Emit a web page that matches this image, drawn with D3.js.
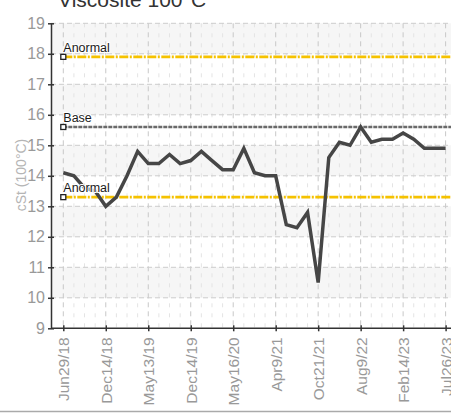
<!DOCTYPE html>
<html><head><meta charset="utf-8">
<script src="https://cdn.jsdelivr.net/npm/d3@7"></script>
<style>
body{margin:0;background:#fff;}
svg{display:block;}
</style></head>
<body>
<svg id="chart" width="451" height="413"></svg>
<script>
const title = "Viscosite 100°C";
const yTitle = "cSt (100°C)";
const values = [14.1,14.0,13.6,13.5,13.0,13.3,14.0,14.8,14.4,14.4,14.7,14.4,14.5,14.8,14.5,14.2,14.2,14.9,14.1,14.0,14.0,12.4,12.3,12.8,10.5,14.6,15.1,15.0,15.6,15.1,15.2,15.2,15.4,15.2,14.9,14.9,14.9];
const tickIndex = [0,4,8,12,16,20,24,28,32,36];
const tickLabels = ["Jun29/18","Dec14/18","May13/19","Dec14/19","May16/20","Apr9/21","Oct21/21","Aug9/22","Feb14/23","Jul26/23"];
const refNames = ["Anormal","Base","Anormal"];
const refValues = [17.9,15.6,13.3];
const refKinds = ["limit","base","limit"];
const yTicks = [9,10,11,12,13,14,15,16,17,18,19];

(function(){
const svg = d3.select("#chart");
const narrow = "'Liberation Sans Narrow','Arial Narrow',sans-serif";
const axisX = 51, plotRight = 451, plotTop = 23.3, plotBottom = 328.3;

const x = d3.scalePoint().domain(d3.range(values.length)).range([63.3, 445.6]);
const y = d3.scaleLinear().domain([9,19]).range([plotBottom, plotTop]);

// alternating bands
const bands = d3.range(9,19).filter(v => (v % 2) === 0);
svg.append("g").selectAll("rect").data(bands).join("rect")
  .attr("x", axisX).attr("width", plotRight - axisX)
  .attr("y", d => y(d+1)).attr("height", d => y(d) - y(d+1))
  .attr("fill", "#f6f6f6");

// minor vertical grid
svg.append("g").selectAll("line").data(d3.range(values.length).filter(i => !tickIndex.includes(i))).join("line")
  .attr("x1", d => x(d)).attr("x2", d => x(d)).attr("y1", plotTop).attr("y2", plotBottom)
  .attr("stroke", "#e4e4e4").attr("stroke-width", 1).attr("stroke-dasharray", "4,6");
// major vertical grid
svg.append("g").selectAll("line").data(tickIndex).join("line")
  .attr("x1", d => x(d)).attr("x2", d => x(d)).attr("y1", plotTop).attr("y2", plotBottom)
  .attr("stroke", "#c8c8c8").attr("stroke-width", 1).attr("stroke-dasharray", "5,4");
// horizontal grid
svg.append("g").selectAll("line").data(yTicks.slice(1)).join("line")
  .attr("x1", axisX).attr("x2", plotRight).attr("y1", d => y(d)).attr("y2", d => y(d))
  .attr("stroke", "#cccccc").attr("stroke-width", 1).attr("stroke-dasharray", "5,3");

// reference lines
const refG = svg.append("g");
refValues.forEach((v, i) => {
  const isBase = refKinds[i] === "base";
  refG.append("line")
    .attr("x1", x(0)).attr("x2", plotRight).attr("y1", y(v)).attr("y2", y(v))
    .attr("stroke", isBase ? "#6a6a6a" : "#f5c200")
    .attr("stroke-width", isBase ? 2.5 : 2.8)
    .attr("stroke-dasharray", isBase ? "4,1" : "9,1.5,2,1.5");
});

// data line
svg.append("path").datum(values)
  .attr("fill", "none").attr("stroke", "#464646").attr("stroke-width", 3.5)
  .attr("stroke-linejoin", "miter")
  .attr("d", d3.line().x((d,i) => x(i)).y(d => y(d)));

// reference markers & labels
const labG = svg.append("g");
refValues.forEach((v, i) => {
  labG.append("rect").attr("x", x(0) - 2.5).attr("y", y(v) - 2.5).attr("width", 5).attr("height", 5)
    .attr("fill", "#fff").attr("stroke", "#222").attr("stroke-width", 1.3);
  labG.append("text").attr("x", x(0)).attr("y", y(v) - 5)
    .attr("font-family", "'Liberation Sans',Arial,sans-serif").attr("font-size", 12.5)
    .attr("fill", "#1a1a1a").attr("stroke", "#fff").attr("stroke-width", 2.2).attr("paint-order", "stroke")
    .text(refNames[i]);
});

// y axis
const yAxis = svg.append("g").attr("transform", `translate(${axisX},0)`)
  .call(d3.axisLeft(y).tickValues(yTicks).tickSizeInner(3).tickSizeOuter(0).tickPadding(3));
yAxis.select(".domain").attr("stroke", "#333").attr("stroke-width", 1.5);
yAxis.selectAll(".tick line").attr("x1", 3).attr("x2", -3).attr("stroke", "#333").attr("stroke-width", 1.5);
yAxis.selectAll("text").attr("font-family", narrow).attr("font-size", 16).attr("fill", "#999");

// x axis
const xAxis = svg.append("g").attr("transform", `translate(0,${plotBottom})`)
  .call(d3.axisBottom(x).tickValues(tickIndex).tickSizeInner(4).tickSizeOuter(0)
    .tickFormat((d) => tickLabels[tickIndex.indexOf(d)]));
xAxis.select(".domain").attr("d", `M${axisX},0H${plotRight}`).attr("stroke", "#333").attr("stroke-width", 1.5);
xAxis.selectAll(".tick line").attr("y1", -3).attr("y2", 3).attr("stroke", "#333").attr("stroke-width", 1.5);
xAxis.selectAll("text")
  .attr("font-family", narrow).attr("font-size", 15.5).attr("fill", "#999")
  .attr("transform", "rotate(-90)").attr("x", -9).attr("y", 0).attr("dy", "0.35em")
  .style("text-anchor", "end");

// y title
svg.append("text").attr("transform", `translate(26,175) rotate(-90)`)
  .attr("text-anchor", "middle").attr("font-family", narrow).attr("font-size", 14)
  .attr("fill", "#b5b5b5").text(yTitle);

// chart title
svg.append("text").attr("x", 58).attr("y", 7)
  .attr("font-family", "'Liberation Sans',Arial,sans-serif").attr("font-size", 21)
  .attr("fill", "#333").text(title);

// bottom border
svg.append("line").attr("x1", 0).attr("x2", 451).attr("y1", 411.5).attr("y2", 411.5)
  .attr("stroke", "#aaa").attr("stroke-width", 1.5);
})();
</script>
</body></html>
